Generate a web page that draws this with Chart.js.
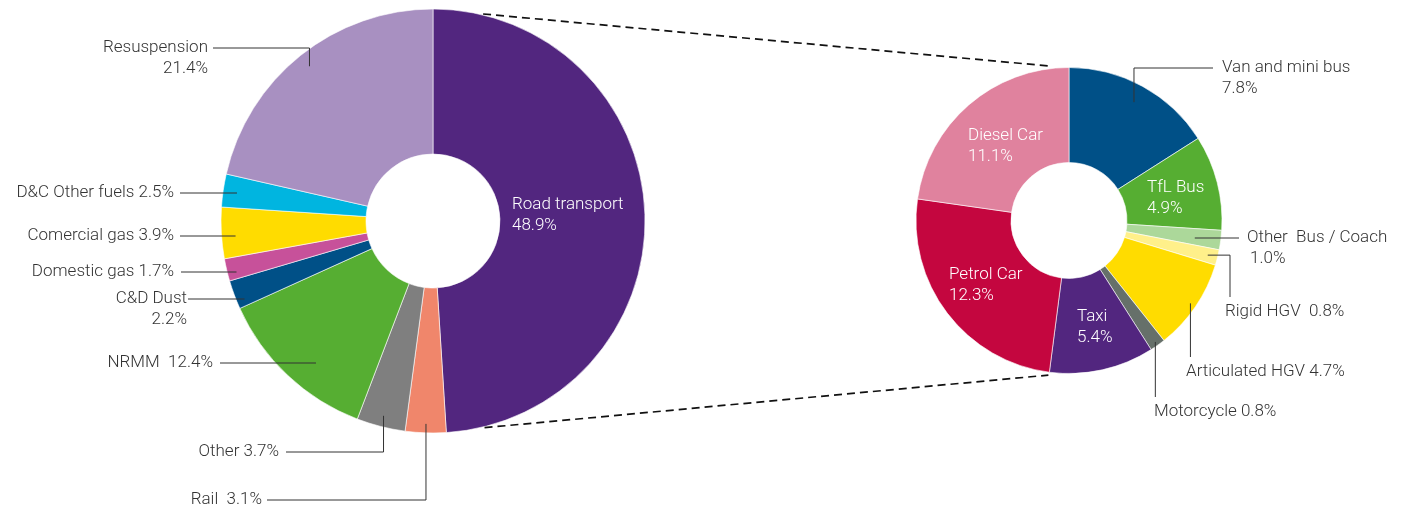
<!DOCTYPE html>
<html>
<head>
<meta charset="utf-8">
<script src="https://cdn.jsdelivr.net/npm/chart.js@4"></script>
<style>
  body { margin: 0; background: #fff; }
  #wrap { position: relative; width: 1410px; height: 513px; }
  #wrap canvas { position: absolute; left: 0; top: 0; }
</style>
</head>
<body>
<div id="wrap">
  <canvas id="sourceChart" width="1410" height="513"></canvas>
  <canvas id="roadChart" width="1410" height="513"></canvas>
</div>
<script>
// Emission sources, share of total (%)
const sourceLabels = ['Road transport', 'Rail', 'Other', 'NRMM', 'C&D Dust', 'Domestic gas',
  'Comercial gas', 'D&C Other fuels', 'Resuspension'];
const sourceValues = [48.9, 3.1, 3.7, 12.4, 2.2, 1.7, 3.9, 2.5, 21.4];
const sourceColors = ['#52267f', '#f0866b', '#7f7f7f', '#56ae32', '#005087', '#c7519a',
  '#ffdc00', '#00b5e0', '#a890c1'];

// Road transport breakdown (%)
const roadLabels = ['Van and mini bus', 'TfL Bus', 'Other  Bus / Coach', 'Rigid HGV', 'Articulated HGV',
  'Motorcycle', 'Taxi', 'Petrol Car', 'Diesel Car'];
const roadValues = [7.8, 4.9, 1.0, 0.8, 4.7, 0.8, 5.4, 12.3, 11.1];
const roadColors = ['#005087', '#56ae32', '#acd89a', '#fff08a', '#ffdc00',
  '#66706a', '#52267f', '#c4063f', '#e0829e'];

const FONT = '300 17px Roboto, "Liberation Sans", Arial, sans-serif';
const TEXT = '#333';
const LINE = '#333';

// label placement (page pixels) and leader style for each slice
const sourceCallouts = [
  { index: 0, x: 512, y: 205, align: 'left', split: true, color: '#fff', leader: 'none' },
  { index: 8, x: 208, y: 48, align: 'right', split: true, r: 198, leader: 'elbow', gap: 5 },
  { index: 7, x: 174, y: 193, align: 'right', r: 198, leader: 'straight' },
  { index: 6, x: 174, y: 236, align: 'right', r: 198, leader: 'straight' },
  { index: 5, x: 174, y: 272, align: 'right', r: 203, leader: 'straight', gap: 7 },
  { index: 4, x: 187, y: 299, align: 'right', split: true, r: 204, leader: 'straight', gap: 1 },
  { index: 3, x: 213, y: 363, align: 'right', sep: '  ', r: 184, leader: 'straight', gap: 7 },
  { index: 2, x: 279, y: 452, align: 'right', r: 201, leader: 'elbow', gap: 7 },
  { index: 1, x: 262, y: 500, align: 'right', sep: '  ', r: 203, leader: 'elbow', gap: 5 }
];

const roadCallouts = [
  { index: 8, x: 968, y: 136, align: 'left', split: true, color: '#fff', leader: 'none' },
  { index: 1, x: 1147, y: 188, align: 'left', split: true, color: '#fff', leader: 'none' },
  { index: 7, x: 949, y: 275, align: 'left', split: true, color: '#fff', leader: 'none' },
  { index: 6, x: 1077, y: 317, align: 'left', split: true, color: '#fff', leader: 'none' },
  { index: 0, x: 1222, y: 68, align: 'left', split: true, r: 135, leader: 'elbow', gap: 9 },
  { index: 2, x: 1247, y: 238, align: 'left', split: true, indent: 3, r: 127, leader: 'straight', gap: 8 },
  { index: 3, x: 1225, y: 312, align: 'left', sep: '  ', r: 143, leader: 'side', elbowX: 1230 },
  { index: 4, x: 1186, y: 372, align: 'left', r: 147, leader: 'down' },
  { index: 5, x: 1154, y: 412, align: 'left', r: 149, leader: 'down' }
];

const deg = Math.PI / 180;

const callouts = {
  id: 'callouts',
  afterDatasetsDraw(chart, args, opts) {
    const ctx = chart.ctx;
    const meta = chart.getDatasetMeta(0);
    const labels = chart.data.labels;
    const values = chart.data.datasets[0].data;
    ctx.save();
    ctx.font = FONT;
    ctx.textBaseline = 'middle';
    ctx.lineWidth = 1;
    ctx.strokeStyle = LINE;

    opts.items.forEach(item => {
      const arc = meta.data[item.index];
      const p = arc.getProps(['x', 'y', 'startAngle', 'endAngle'], true);
      const mid = (p.startAngle + p.endAngle) / 2;
      const valueText = values[item.index].toFixed(1) + '%';
      const lines = item.split
        ? [labels[item.index], valueText]
        : [labels[item.index] + (item.sep || ' ') + valueText];

      ctx.fillStyle = item.color || TEXT;
      ctx.textAlign = item.align;
      lines.forEach((t, i) => {
        ctx.fillText(t, item.x + (i > 0 ? (item.indent || 0) : 0), item.y + i * 21);
      });

      if (item.leader === 'none') return;
      const ax = p.x + Math.cos(mid) * item.r;
      const ay = p.y + Math.sin(mid) * item.r;
      const gap = item.gap !== undefined ? item.gap : 6;
      const sx = item.align === 'right' ? item.x + gap : item.x - gap;

      ctx.beginPath();
      if (item.leader === 'elbow') {
        ctx.moveTo(sx, item.y);
        ctx.lineTo(ax, item.y);
        ctx.lineTo(ax, ay);
      } else if (item.leader === 'straight') {
        const dy = item.y - p.y;
        const dx = Math.sqrt(Math.max(item.r * item.r - dy * dy, 0));
        const hx = item.align === 'right' ? p.x - dx : p.x + dx;
        ctx.moveTo(sx, item.y);
        ctx.lineTo(hx, item.y);
      } else if (item.leader === 'down') {
        ctx.moveTo(ax, ay);
        ctx.lineTo(ax, item.y - 15);
      } else if (item.leader === 'side') {
        ctx.moveTo(ax, ay);
        ctx.lineTo(item.elbowX, ay);
        ctx.lineTo(item.elbowX, item.y - 15);
      }
      ctx.stroke();
    });
    ctx.restore();
  }
};

// dashed lines joining the road transport slice to the breakdown doughnut
const connectors = {
  id: 'connectors',
  afterDatasetsDraw(chart) {
    const left = sourceChart.getDatasetMeta(0).data[0];
    const right = chart.getDatasetMeta(0).data[0];
    const lp = left.getProps(['x', 'y', 'outerRadius'], true);
    const rp = right.getProps(['x', 'y', 'outerRadius'], true);
    const pairs = [[-76.4, -97.7], [76, 97.6]];
    const ctx = chart.ctx;
    ctx.save();
    ctx.strokeStyle = '#111';
    ctx.lineWidth = 1.7;
    ctx.setLineDash([8, 5]);
    pairs.forEach(([a, b]) => {
      ctx.beginPath();
      ctx.moveTo(lp.x + Math.cos(a * deg) * (lp.outerRadius + 1), lp.y + Math.sin(a * deg) * (lp.outerRadius + 1));
      ctx.lineTo(rp.x + Math.cos(b * deg) * (rp.outerRadius + 3), rp.y + Math.sin(b * deg) * (rp.outerRadius + 3));
      ctx.stroke();
    });
    ctx.restore();
  }
};

function doughnutOptions(radius, cutout, padding, items) {
  return {
    responsive: false,
    animation: false,
    events: [],
    radius: radius,
    cutout: cutout,
    layout: { padding: padding },
    plugins: {
      legend: { display: false },
      tooltip: { enabled: false },
      callouts: { items: items }
    }
  };
}

const sourceChart = new Chart(document.getElementById('sourceChart'), {
  type: 'doughnut',
  data: {
    labels: sourceLabels,
    datasets: [{
      data: sourceValues,
      backgroundColor: sourceColors,
      borderColor: '#fff',
      borderWidth: 0.6
    }]
  },
  options: doughnutOptions(212, '31.6%', { left: 0, right: 544, top: 0, bottom: 71 }, sourceCallouts),
  plugins: [callouts]
});

const roadChart = new Chart(document.getElementById('roadChart'), {
  type: 'doughnut',
  data: {
    labels: roadLabels,
    datasets: [{
      data: roadValues,
      backgroundColor: roadColors,
      borderColor: '#fff',
      borderWidth: 0.6
    }]
  },
  options: doughnutOptions(153, '37.9%', { left: 728, right: 0, top: 0, bottom: 72 }, roadCallouts),
  plugins: [callouts, connectors]
});
</script>
</body>
</html>
